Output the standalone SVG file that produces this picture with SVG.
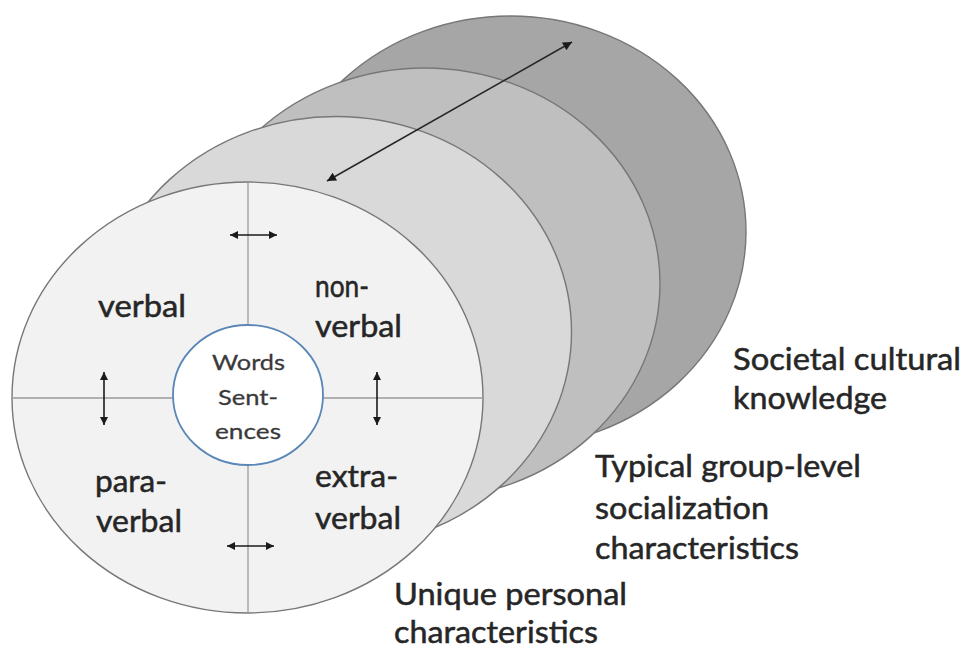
<svg xmlns="http://www.w3.org/2000/svg" width="963" height="649" viewBox="0 0 963 649">
  <defs>
    <marker id="tip" viewBox="0 0 10 10" refX="10" refY="5" markerWidth="8" markerHeight="8" markerUnits="userSpaceOnUse" orient="auto-start-reverse">
      <path d="M0,0 L10,5 L0,10 z" fill="#1a1a1a"/>
    </marker>
    <marker id="tipLarge" viewBox="0 0 10 10" refX="10" refY="5" markerWidth="11" markerHeight="9" markerUnits="userSpaceOnUse" orient="auto-start-reverse">
      <path d="M0,0 L10,5 L0,10 z" fill="#1a1a1a"/>
    </marker>
  </defs>
  <style>
    .disc { stroke: #777777; stroke-width: 1.4; }
    .axis { stroke: #9a9a9a; stroke-width: 1.3; fill: none; }
    .arrow { stroke: #1a1a1a; stroke-width: 1.6; fill: none; marker-start: url(#tip); marker-end: url(#tip); }
    .arrowLong { stroke: #262626; stroke-width: 1.5; fill: none; marker-start: url(#tipLarge); marker-end: url(#tipLarge); }
    .label { font-family: Lato, "Liberation Sans", sans-serif; font-size: 30px; fill: #262626; stroke: #262626; stroke-width: 0.5; }
    .core { font-family: Lato, "Liberation Sans", sans-serif; font-size: 22px; fill: #3a3a3a; stroke: #3a3a3a; stroke-width: 0.3; }
  </style>

  <rect width="963" height="649" fill="#ffffff"/>

  <!-- layered discs, back to front -->
  <g id="societal-disc">
    <ellipse class="disc" cx="510.5" cy="231.5" rx="235.5" ry="215.5" fill="#a6a6a6"/>
  </g>
  <g id="group-disc">
    <ellipse class="disc" cx="424.5" cy="283.5" rx="235.5" ry="215.5" fill="#bfbfbf"/>
  </g>
  <g id="personal-disc">
    <ellipse class="disc" cx="336" cy="332" rx="235.5" ry="215.5" fill="#d9d9d9"/>
  </g>
  <g id="front-disc">
    <ellipse class="disc" cx="247.5" cy="397.5" rx="235.5" ry="215.5" fill="#f2f2f2"/>
    <!-- quadrant dividers -->
    <line class="axis" x1="248" y1="182" x2="248" y2="325"/>
    <line class="axis" x1="248" y1="465" x2="248" y2="613"/>
    <line class="axis" x1="12" y1="398" x2="173" y2="398"/>
    <line class="axis" x1="323" y1="398" x2="483" y2="398"/>
  </g>
  <g id="core">
    <ellipse cx="248" cy="395" rx="75" ry="70" fill="#ffffff" stroke="#5a87b6" stroke-width="1.8"/>
    <text class="core" x="212" y="370" textLength="73" lengthAdjust="spacingAndGlyphs">Words</text>
    <text class="core" x="218" y="405" textLength="60" lengthAdjust="spacingAndGlyphs">Sent-</text>
    <text class="core" x="215" y="439" textLength="66" lengthAdjust="spacingAndGlyphs">ences</text>
  </g>

  <!-- quadrant labels -->
  <g id="q-verbal">
    <text class="label" x="98" y="317" textLength="88" lengthAdjust="spacingAndGlyphs">verbal</text>
  </g>
  <g id="q-nonverbal">
    <text class="label" x="315" y="297" textLength="54" lengthAdjust="spacingAndGlyphs">non-</text>
    <text class="label" x="315" y="337" textLength="87" lengthAdjust="spacingAndGlyphs">verbal</text>
  </g>
  <g id="q-paraverbal">
    <text class="label" x="95" y="492" textLength="72" lengthAdjust="spacingAndGlyphs">para-</text>
    <text class="label" x="96" y="532" textLength="86" lengthAdjust="spacingAndGlyphs">verbal</text>
  </g>
  <g id="q-extraverbal">
    <text class="label" x="315" y="487" textLength="83" lengthAdjust="spacingAndGlyphs">extra-</text>
    <text class="label" x="315" y="529" textLength="86" lengthAdjust="spacingAndGlyphs">verbal</text>
  </g>

  <!-- layer captions -->
  <g id="cap-societal">
    <text class="label" x="733" y="370" textLength="228" lengthAdjust="spacingAndGlyphs">Societal cultural</text>
    <text class="label" x="733" y="409" textLength="154" lengthAdjust="spacingAndGlyphs">knowledge</text>
  </g>
  <g id="cap-group">
    <text class="label" x="595" y="477" textLength="266" lengthAdjust="spacingAndGlyphs">Typical group-level</text>
    <text class="label" x="595" y="519" textLength="174" lengthAdjust="spacingAndGlyphs">socialization</text>
    <text class="label" x="595" y="559" textLength="204" lengthAdjust="spacingAndGlyphs">characteristics</text>
  </g>
  <g id="cap-personal">
    <text class="label" x="394" y="605" textLength="233" lengthAdjust="spacingAndGlyphs">Unique personal</text>
    <text class="label" x="394" y="643" textLength="204" lengthAdjust="spacingAndGlyphs">characteristics</text>
  </g>

  <!-- connectors -->
  <g id="connectors">
    <line class="arrow" x1="230" y1="235" x2="277" y2="235"/>
    <line class="arrow" x1="227" y1="546" x2="274" y2="546"/>
    <line class="arrow" x1="104" y1="372" x2="104" y2="425"/>
    <line class="arrow" x1="377" y1="372" x2="377" y2="425"/>
    <line class="arrowLong" x1="327" y1="181" x2="572" y2="42"/>
  </g>
</svg>
